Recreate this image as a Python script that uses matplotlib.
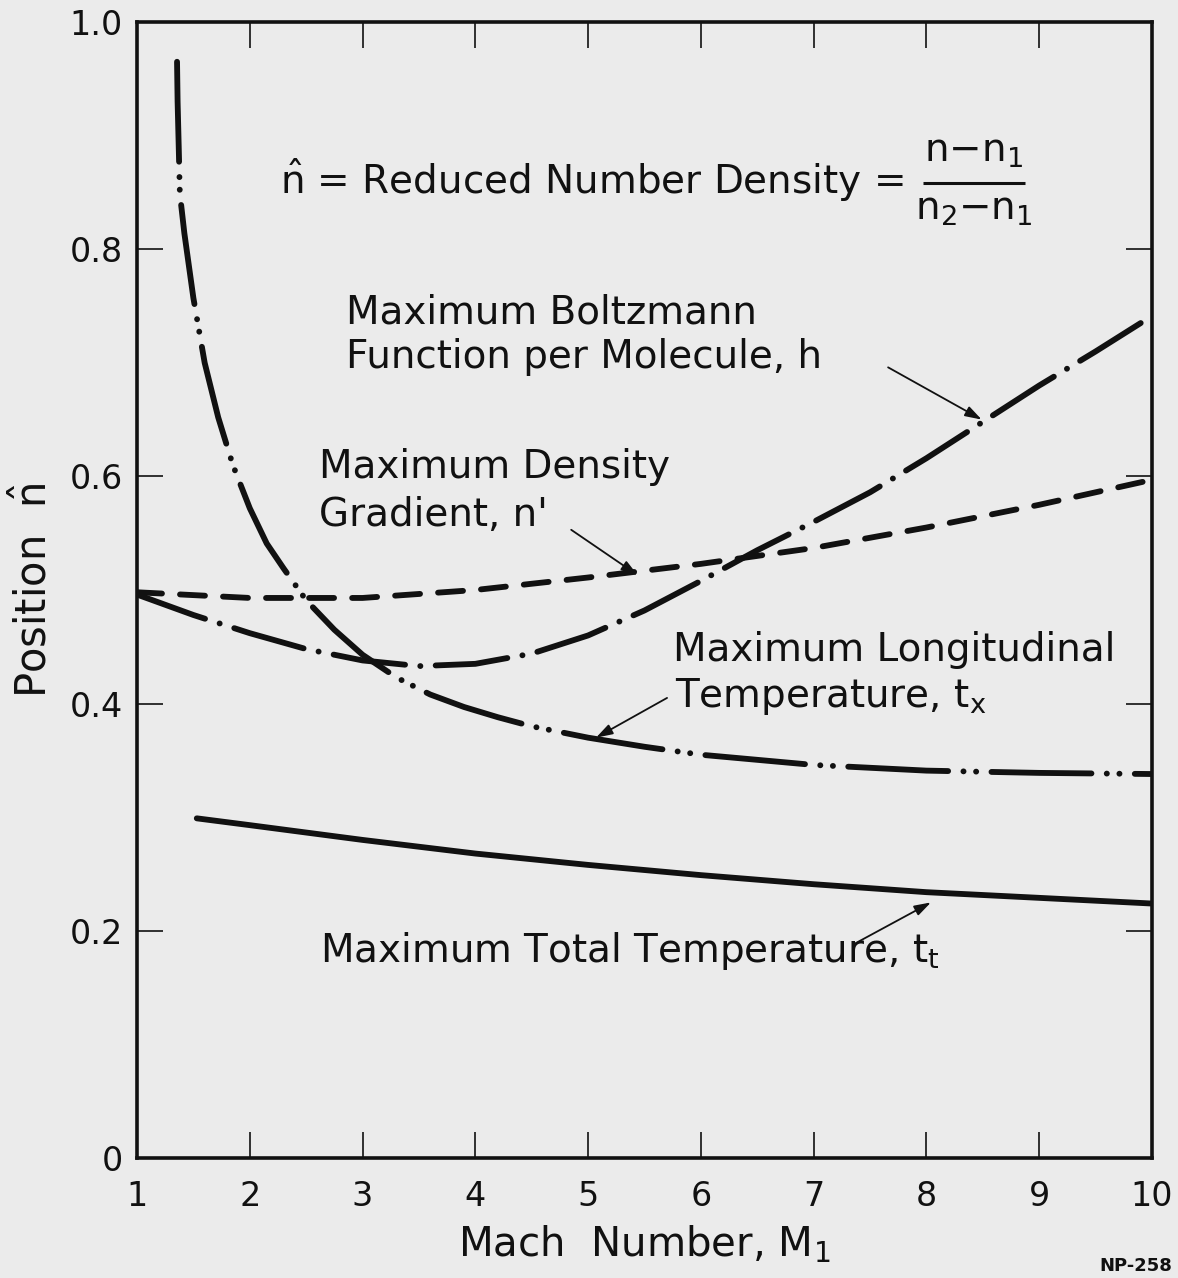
import matplotlib
matplotlib.use("Agg")
import matplotlib.pyplot as plt

plt.rcParams['font.family'] = ['DejaVu Sans']
plt.rcParams['mathtext.fontset'] = 'dejavusans'
plt.rcParams['mathtext.default'] = 'regular'
plt.rcParams['lines.scale_dashes'] = False

# ---- data ----
mach_h = [1.0, 1.5, 2.0, 2.5, 3.0, 3.5, 4.0, 4.5, 5.0, 5.5, 6.0, 6.5, 7.0, 7.5, 8.0, 8.5, 9.0, 9.5, 9.9]
pos_h = [0.496, 0.478, 0.462, 0.448, 0.438, 0.433, 0.435, 0.444, 0.460, 0.482, 0.508, 0.535,
         0.560, 0.586, 0.616, 0.648, 0.680, 0.710, 0.735]

mach_nprime = [1.0, 2.0, 3.0, 4.0, 5.0, 6.0, 7.0, 8.0, 9.0, 10.0]
pos_nprime = [0.498, 0.493, 0.493, 0.500, 0.511, 0.523, 0.537, 0.555, 0.575, 0.597]

mach_tx = [1.355, 1.36, 1.37, 1.38, 1.42, 1.5, 1.6, 1.72, 1.85, 2.0, 2.15, 2.3, 2.5, 2.75, 3.0,
           3.3, 3.6, 3.9, 4.2, 4.5, 5.0, 5.5, 6.0, 7.0, 8.0, 9.0, 10.0]
pos_tx = [0.965, 0.93, 0.89, 0.849, 0.814, 0.757, 0.700, 0.652, 0.610, 0.572, 0.541, 0.519,
          0.491, 0.465, 0.443, 0.423, 0.408, 0.397, 0.388, 0.380, 0.370, 0.362, 0.355,
          0.346, 0.341, 0.339, 0.338]

mach_tt = [1.53, 2.0, 3.0, 4.0, 5.0, 6.0, 7.0, 8.0, 9.0, 10.0]
pos_tt = [0.299, 0.293, 0.280, 0.268, 0.258, 0.249, 0.241, 0.234, 0.229, 0.224]

x_ticks = [1, 2, 3, 4, 5, 6, 7, 8, 9, 10]
y_ticks = [0, 0.2, 0.4, 0.6, 0.8, 1.0]
y_ticklabels = ["0", "0.2", "0.4", "0.6", "0.8", "1.0"]

paper = '#ebebeb'
ink = '#111111'

fig = plt.figure(figsize=(11.78, 12.78), dpi=100, facecolor=paper)
ax = fig.add_axes([137/1178, 1 - 1158/1278, (1152-137)/1178, (1158-22)/1278])
ax.set_facecolor(paper)

lw = 4.2
ax.plot(mach_h, pos_h, color=ink, lw=lw, dash_capstyle='round', solid_capstyle='round',
        linestyle=(0, (52, 11, 0.1, 11)))
ax.plot(mach_nprime, pos_nprime, color=ink, lw=lw, dash_capstyle='round',
        linestyle=(0, (18, 13)))
ax.plot(mach_tx, pos_tx, color=ink, lw=lw, dash_capstyle='round', solid_capstyle='round',
        linestyle=(0, (72, 11, 0.1, 9, 0.1, 11)))
ax.plot(mach_tt, pos_tt, color=ink, lw=lw, solid_capstyle='round')

ax.set_xlim(1, 10)
ax.set_ylim(0, 1.0)
ax.set_xticks(x_ticks)
ax.set_xticklabels([str(t) for t in x_ticks])
ax.set_yticks(y_ticks)
ax.set_yticklabels(y_ticklabels)
ax.tick_params(direction='in', length=19, width=1.2, color=ink, labelsize=24,
               top=True, right=True, labelcolor=ink)
ax.tick_params(axis='x', pad=16)
ax.tick_params(axis='y', pad=10)
for s in ax.spines.values():
    s.set_linewidth(2.6)
    s.set_color(ink)

tfs = 28
# header definition
ax.text(2.27, 0.849, r"$\hat{\mathrm{n}}$ = Reduced Number Density =", fontsize=tfs,
        color=ink, va='baseline', ha='left')
ax.text(8.42, 0.877, r"n$-$n$_1$", fontsize=tfs, color=ink, va='baseline', ha='center')
ax.plot([7.97, 8.87], [0.858, 0.858], color=ink, lw=2.2, solid_capstyle='butt')
ax.text(8.42, 0.826, r"n$_2$$-$n$_1$", fontsize=tfs, color=ink, va='baseline', ha='center')

# curve labels
ax.text(2.85, 0.735, "Maximum Boltzmann", fontsize=tfs, color=ink, va='baseline')
ax.text(2.85, 0.695, "Function per Molecule, h", fontsize=tfs, color=ink, va='baseline')
ax.text(2.61, 0.599, "Maximum Density", fontsize=tfs, color=ink, va='baseline')
ax.text(2.61, 0.556, "Gradient, n'", fontsize=tfs, color=ink, va='baseline')
ax.text(5.75, 0.4375, "Maximum Longitudinal", fontsize=tfs, color=ink, va='baseline')
ax.text(5.77, 0.397, r"Temperature, t$_x$", fontsize=tfs, color=ink, va='baseline')
ax.text(2.62, 0.1725, r"Maximum Total Temperature, t$_t$", fontsize=tfs, color=ink, va='baseline')

arrow = dict(arrowstyle='-|>,head_length=1.0,head_width=0.32', color=ink, lw=1.3,
             shrinkA=0, shrinkB=0)
ax.annotate("", xy=(8.49, 0.650), xytext=(7.66, 0.696), arrowprops=arrow)
ax.annotate("", xy=(5.44, 0.513), xytext=(4.85, 0.553), arrowprops=arrow)
ax.annotate("", xy=(5.07, 0.370), xytext=(5.70, 0.405), arrowprops=arrow)
ax.annotate("", xy=(8.04, 0.225), xytext=(7.37, 0.189), arrowprops=arrow)

# axis labels
fig.text(644/1178, 1 - 1245/1278, r"Mach  Number, M$_1$", fontsize=29, color=ink,
         ha='center', va='center')
fig.text(34/1178, 1 - 591/1278, r"Position  $\hat{\mathrm{n}}$", fontsize=30, color=ink,
         ha='center', va='center', rotation=90)
fig.text(1172/1178, 1 - 1266/1278, "NP-258", fontsize=13, color=ink, ha='right',
         va='center', fontweight='bold')

fig.savefig("out.png", dpi=100, facecolor=paper)
